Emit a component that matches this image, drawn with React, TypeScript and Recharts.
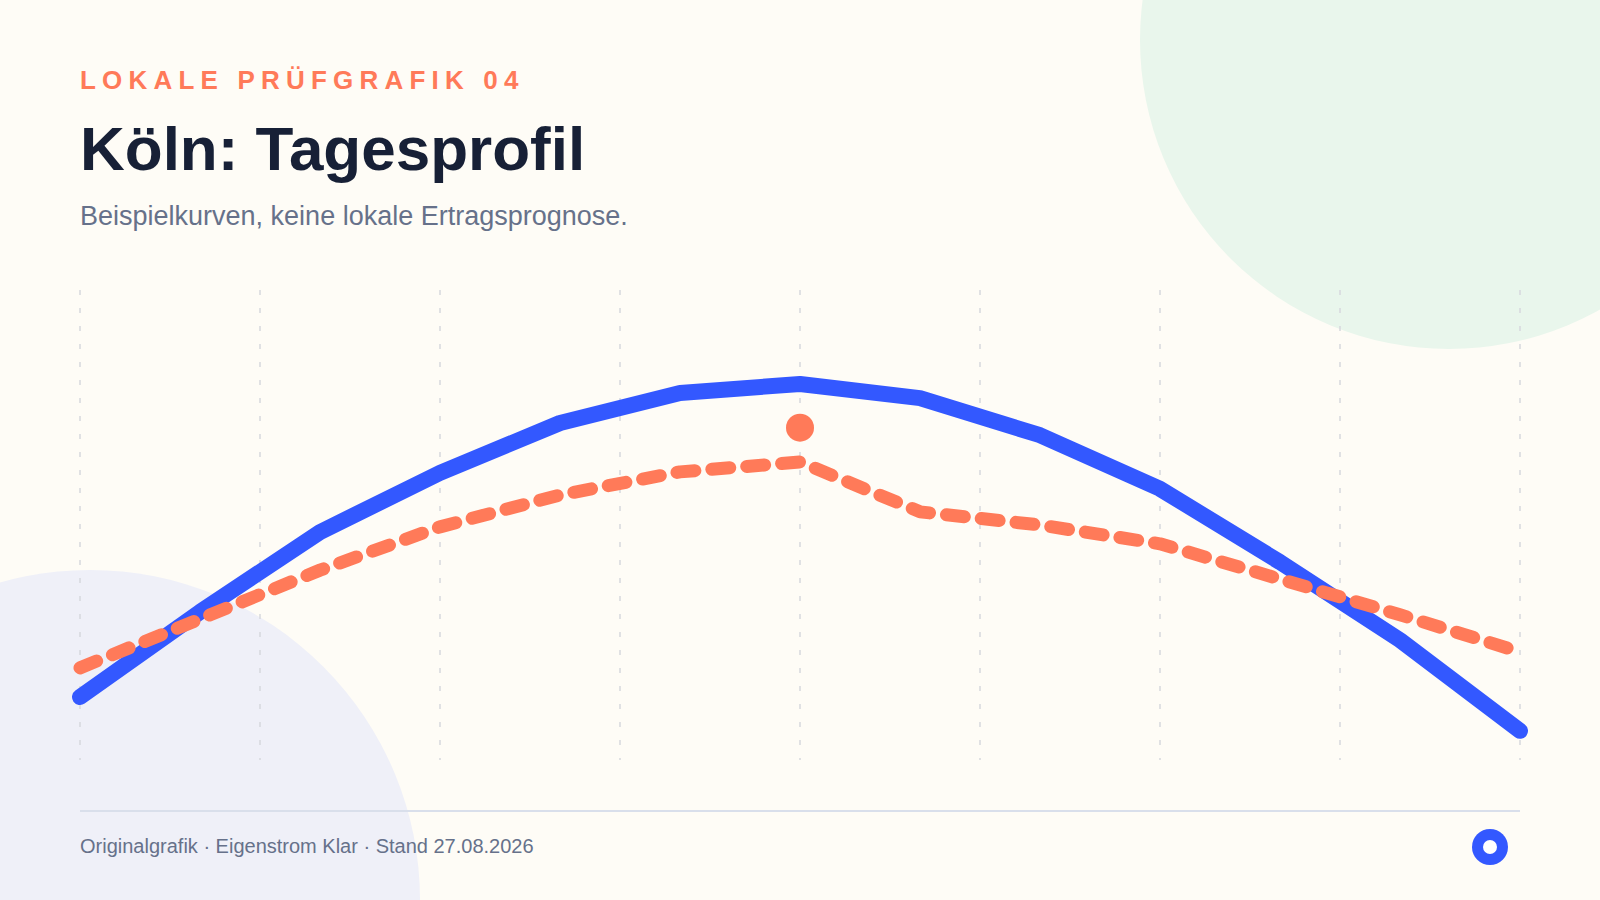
import { LineChart, Line, XAxis, YAxis, CartesianGrid, ReferenceDot } from 'recharts';

// Stunden des Tagesprofils
const HOURS = [6, 7, 8, 9, 10, 11, 12, 13, 14, 15, 16, 17, 18];
// Vertikale Rasterlinien (alle 1,5 h)
const GRID_TICKS = [6, 7.5, 9, 10.5, 12, 13.5, 15, 16.5, 18];
// Beispielkurven (relative Werte 0–100)
const ERZEUGUNG = [13.4, 31.5, 48.5, 61.1, 71.7, 78.1, 80.0, 77.0, 69.1, 57.7, 42.1, 25.5, 6.2];
const VERBRAUCH = [19.6, 30.0, 40.4, 49.6, 56.4, 61.3, 63.4, 52.8, 50.0, 46.0, 38.5, 30.9, 23.0];
// Markierter Punkt
const MARKER = { hour: 12, value: 70.7 };

const BLUE = '#3358ff';
const ORANGE = '#ff7a59';
const FONT = '"Liberation Sans", Arial, Helvetica, sans-serif';

const data = HOURS.map((h, i) => ({ h, erzeugung: ERZEUGUNG[i], verbrauch: VERBRAUCH[i] }));

export default function App() {
  return (
    <div style={{ position: 'absolute', left: 0, top: 0, width: 1600, height: 900, overflow: 'hidden', background: '#fefcf6', fontFamily: FONT }}>
      {/* Deko-Kreise */}
      <div style={{ position: 'absolute', left: 1449 - 309, top: 40 - 309, width: 618, height: 618, borderRadius: '50%', background: '#e9f6ec' }} />
      <div style={{ position: 'absolute', left: 90 - 330, top: 900 - 330, width: 660, height: 660, borderRadius: '50%', background: '#eff0f8' }} />

      <div style={{ position: 'absolute', left: 0, top: 0 }}>
        <LineChart width={1600} height={900} data={data} margin={{ top: 290, right: 80, bottom: 140, left: 80 }}>
          <CartesianGrid horizontal={false} stroke="#d6d8dd" strokeWidth={1.5} strokeDasharray="5 13" />
          <XAxis dataKey="h" type="number" domain={[6, 18]} ticks={GRID_TICKS} hide />
          <YAxis domain={[0, 100]} hide />
          <Line type="linear" dataKey="erzeugung" stroke={BLUE} strokeWidth={16} strokeLinecap="round" strokeLinejoin="round" dot={false} isAnimationActive={false} />
          <Line type="linear" dataKey="verbrauch" stroke={ORANGE} strokeWidth={13} strokeDasharray="18 17" strokeLinecap="round" strokeLinejoin="round" dot={false} isAnimationActive={false} />
          <ReferenceDot x={MARKER.hour} y={MARKER.value} r={14} fill={ORANGE} stroke="none" />
        </LineChart>
      </div>

      <div style={{ position: 'absolute', left: 80, top: 67, fontSize: 26, lineHeight: 1, fontWeight: 700, letterSpacing: 6.2, color: ORANGE, whiteSpace: 'nowrap' }}>
        LOKALE PRÜFGRAFIK 04
      </div>
      <div style={{ position: 'absolute', left: 80, top: 118, fontSize: 62, lineHeight: 1, fontWeight: 700, color: '#172036', whiteSpace: 'nowrap' }}>
        Köln: Tagesprofil
      </div>
      <div style={{ position: 'absolute', left: 80, top: 203, fontSize: 27, lineHeight: 1, color: '#66718a', whiteSpace: 'nowrap' }}>
        Beispielkurven, keine lokale Ertragsprognose.
      </div>

      <div style={{ position: 'absolute', left: 80, top: 810, width: 1440, height: 2, background: '#d9dfeb' }} />
      <div style={{ position: 'absolute', left: 80, top: 836, fontSize: 20, lineHeight: 1, color: '#66718a', whiteSpace: 'nowrap' }}>
        Originalgrafik · Eigenstrom Klar · Stand 27.08.2026
      </div>
      <div style={{ position: 'absolute', left: 1490 - 18, top: 847 - 18, width: 36, height: 36, borderRadius: '50%', background: BLUE }}>
        <div style={{ position: 'absolute', left: 11, top: 11, width: 14, height: 14, borderRadius: '50%', background: '#ffffff' }} />
      </div>
    </div>
  );
}
